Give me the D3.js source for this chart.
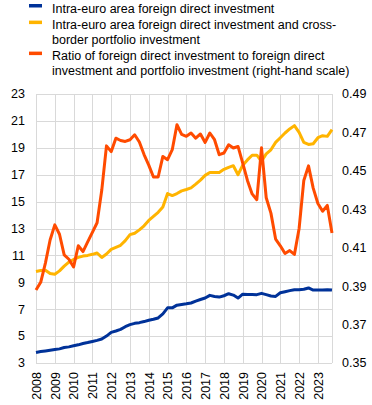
<!DOCTYPE html>
<html>
<head>
<meta charset="utf-8">
<script src="https://cdn.jsdelivr.net/npm/d3@7"></script>
<style>
  html, body { margin: 0; padding: 0; background: #fff; }
  #chart { width: 372px; height: 405px; }
</style>
</head>
<body>
<div id="chart"></div>
<script>
// Quarterly data, 2008 Q1 - 2023 Q4
const startYear = 2008;
const yearTicks = d3.range(2008, 2024);

// Intra-euro area foreign direct investment (left scale)
const fdi = [
  3.78, 3.85, 3.9, 3.95, 4.0, 4.05, 4.15, 4.2,
  4.28, 4.35, 4.45, 4.52, 4.6, 4.68, 4.78, 5.0,
  5.28, 5.38, 5.5, 5.7, 5.85, 5.95, 6.0, 6.08,
  6.18, 6.25, 6.35, 6.65, 7.1, 7.1, 7.3, 7.35,
  7.4, 7.46, 7.6, 7.72, 7.83, 8.03, 7.95, 7.9,
  8.0, 8.15, 8.05, 7.83, 8.12, 8.1, 8.1, 8.08,
  8.18, 8.08, 7.98, 7.95, 8.22, 8.3, 8.38, 8.45,
  8.45, 8.48, 8.58, 8.42, 8.42, 8.42, 8.45, 8.42
];

// Intra-euro area FDI and cross-border portfolio investment (left scale)
const fdiPortfolio = [
  9.8, 9.88, 9.9, 9.65, 9.6, 9.85, 10.2, 10.5,
  10.7, 10.85, 10.95, 11.0, 11.08, 11.18, 10.85, 11.1,
  11.45, 11.6, 11.75, 12.1, 12.54, 12.65, 12.9, 13.2,
  13.6, 13.9, 14.2, 14.6, 15.6, 15.45, 15.6, 15.8,
  15.9, 16.02, 16.3, 16.6, 16.95, 17.17, 17.17, 17.17,
  17.4, 17.55, 17.67, 17.0, 17.7, 18.1, 18.45, 18.45,
  18.0, 18.55, 18.85, 19.4, 19.75, 20.1, 20.4, 20.65,
  20.15, 19.4, 19.25, 19.3, 19.75, 19.9, 19.85, 20.35
];

// Ratio of FDI to FDI and portfolio investment (right scale)
const ratio = [
  0.388, 0.392, 0.402, 0.414, 0.4219, 0.417, 0.4063, 0.404,
  0.4, 0.411, 0.408, 0.413, 0.418, 0.423, 0.44, 0.463,
  0.46, 0.467, 0.4658, 0.4653, 0.4662, 0.4688, 0.465, 0.4585,
  0.453, 0.4468, 0.4468, 0.4575, 0.4558, 0.461, 0.474, 0.469,
  0.468, 0.4697, 0.467, 0.4692, 0.4648, 0.4697, 0.4662, 0.4584,
  0.4593, 0.4636, 0.4619, 0.4627, 0.454, 0.445, 0.438, 0.435,
  0.462, 0.436, 0.428, 0.4145, 0.411, 0.407, 0.4085, 0.4065,
  0.42, 0.445, 0.4526, 0.441, 0.433, 0.429, 0.432, 0.4176
];

const leftTicks = d3.range(3, 24, 2);
const rightTicks = [0.35, 0.37, 0.39, 0.41, 0.43, 0.45, 0.47, 0.49];

const legendLabels = [
  ["Intra-euro area foreign direct investment"],
  ["Intra-euro area foreign direct investment and cross-", "border portfolio investment"],
  ["Ratio of foreign direct investment to foreign direct", "investment and portfolio investment (right-hand scale)"]
];

(function(){
  const CFG = {
    width: 372,
    height: 405,
    left: 36,
    right: 332,
    top: 94,
    bottom: 363,
    font: '12.5px "Liberation Sans", Arial, sans-serif',
    grid: '#d9d9d9',
    colors: ['#003299', '#ffb400', '#ff4b00'],
    lineWidth: 3
  };

  const svg = d3.select('#chart').append('svg')
    .attr('width', CFG.width)
    .attr('height', CFG.height)
    .attr('style', 'font: ' + CFG.font + ';');

  const n = fdi.length;
  const x = d3.scaleLinear().domain([0, n - 1]).range([CFG.left, CFG.right]);
  const yL = d3.scaleLinear().domain([3, 23]).range([CFG.bottom, CFG.top]);
  const yR = d3.scaleLinear().domain([0.35, 0.49]).range([CFG.bottom, CFG.top]);

  // Grid
  const grid = svg.append('g').attr('stroke', CFG.grid).attr('stroke-width', 1).attr('shape-rendering', 'crispEdges');
  grid.selectAll('line.h').data(leftTicks).join('line')
    .attr('x1', CFG.left).attr('x2', CFG.right)
    .attr('y1', d => Math.round(yL(d)) + 0.5).attr('y2', d => Math.round(yL(d)) + 0.5);
  const vx = yearTicks.map(yr => x((yr - startYear) * 4)).concat([CFG.right]);
  grid.selectAll('line.v').data(vx).join('line')
    .attr('x1', d => Math.round(d) + 0.5).attr('x2', d => Math.round(d) + 0.5)
    .attr('y1', CFG.top).attr('y2', CFG.bottom);

  // Left axis labels
  svg.append('g').selectAll('text').data(leftTicks).join('text')
    .attr('x', 25).attr('y', d => yL(d)).attr('dy', '0.35em')
    .attr('text-anchor', 'end').attr('fill', '#000')
    .text(d => d);

  // Right axis labels
  svg.append('g').selectAll('text').data(rightTicks).join('text')
    .attr('x', 342).attr('y', d => yR(d)).attr('dy', '0.35em')
    .attr('fill', '#000')
    .text(d => d3.format('.2f')(d));

  // Year labels, rotated
  svg.append('g').selectAll('text').data(yearTicks).join('text')
    .attr('transform', d => `translate(${x((d - startYear) * 4) + 0.5},372) rotate(-90)`)
    .attr('dy', '0.35em')
    .attr('text-anchor', 'end').attr('fill', '#000')
    .text(d => d);

  // Lines
  const line = (scale) => d3.line().x((d, i) => x(i)).y(d => scale(d));
  const series = [
    { values: fdi, scale: yL },
    { values: fdiPortfolio, scale: yL },
    { values: ratio, scale: yR }
  ];
  svg.append('g').selectAll('path').data(series).join('path')
    .attr('fill', 'none')
    .attr('stroke', (d, i) => CFG.colors[i])
    .attr('stroke-width', CFG.lineWidth)
    .attr('stroke-linejoin', 'round')
    .attr('d', d => line(d.scale)(d.values));

  // Legend
  const legendY = [12.7, 29.3, 60.3];
  const lg = svg.append('g');
  legendLabels.forEach((lines, i) => {
    lg.append('rect')
      .attr('x', 29).attr('y', legendY[i] - 8.7)
      .attr('width', 13).attr('height', 3.5)
      .attr('fill', CFG.colors[i]);
    const t = lg.append('text').attr('fill', '#000');
    lines.forEach((s, j) => {
      t.append('tspan').attr('x', 52).attr('y', legendY[i] + j * 15).text(s);
    });
  });
})();
</script>
</body>
</html>
